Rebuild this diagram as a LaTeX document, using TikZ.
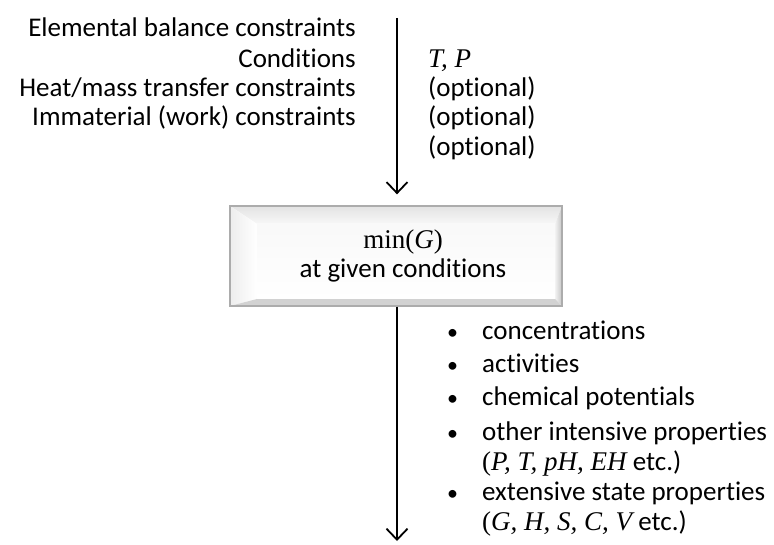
\documentclass[tikz,border=0pt]{standalone}
\usepackage{fontspec}
\setmainfont{Carlito}[Ligatures=NoCommon]
\newfontfamily\timesrm{Liberation Serif}
\usetikzlibrary{arrows.meta,calc}

\newcommand{\tvar}[1]{{\timesrm\itshape #1}}
\newcommand{\trm}[1]{{\timesrm #1}}
\newcommand{\bul}{\llap{{\fontsize{22}{26}\selectfont\textbullet}\hspace{24pt}}}

\tikzset{
  txt/.style={inner sep=0pt, font=\fontsize{27}{32}\selectfont},
  flow/.style={line width=1.8pt, -{Straight Barb[length=11pt,width=21pt,line width=1.8pt]}},
  mainbox/.style={minimum width=332pt, minimum height=100pt, inner sep=0pt,
    draw=gray!65, line width=1.3pt, align=center,
    path picture={
      % bevelled frame of the box
      \coordinate (o1) at (path picture bounding box.north west);
      \coordinate (o2) at (path picture bounding box.north east);
      \coordinate (o3) at (path picture bounding box.south east);
      \coordinate (o4) at (path picture bounding box.south west);
      \coordinate (i1) at ($(o1)+(27,18)$);
      \coordinate (i2) at ($(o2)+(-7,18)$);
      \coordinate (i3) at ($(o3)+(-7,-7)$);
      \coordinate (i4) at ($(o4)+(27,-7)$);
      \shade[top color=gray!22, bottom color=gray!6] (o1) -- (o2) -- (i2) -- (i1) -- cycle;
      \shade[left color=gray!14, right color=white] (o1) -- (i1) -- (i4) -- (o4) -- cycle;
      \shade[left color=gray!10, right color=gray!45] (o2) -- (o3) -- (i3) -- (i2) -- cycle;
      \fill[gray!35] (o4) -- (i4) -- (i3) -- (o3) -- cycle;
      \shade[top color=gray!5, bottom color=white] (i1) -- (i2) -- (i3) -- (i4) -- cycle;
    }}
}

\begin{document}
\begin{tikzpicture}[x=1pt, y=-1pt]
  \useasboundingbox (0,0) rectangle (774,545);

  % inputs on the left
  \node[txt, anchor=base east] (elem) at (356,37) {Elemental balance constraints};
  \node[txt, anchor=base east] (cond) at (356,68) {Conditions};
  \node[txt, anchor=base east] (heat) at (356,97) {Heat/mass transfer constraints};
  \node[txt, anchor=base east] (work) at (356,126) {Immaterial (work) constraints};

  % values on the right
  \node[txt, anchor=base west] (tp) at (428,68) {\tvar{T, P}};
  \node[txt, anchor=base west] (opt1) at (428,97) {(optional)};
  \node[txt, anchor=base west] (opt2) at (428,126) {(optional)};
  \node[txt, anchor=base west] (opt3) at (428,156) {(optional)};

  % minimisation box
  \node[mainbox] (box) at (396,256) {};
  \node[txt, anchor=base] (min) at (403,249) {\trm{min(}\tvar{G}\trm{)}};
  \node[txt, anchor=base] (given) at (403,278) {at given conditions};

  % arrows
  \coordinate (in) at (397,18);
  \coordinate (out) at (397,541);
  \draw[flow] (in) -- ($(box.north)+(1,-11)$);
  \draw[flow] (box.south -| in) -- (out);

  % results
  \node[txt, anchor=base west] (conc) at (482,340) {\bul concentrations};
  \node[txt, anchor=base west] (act) at (482,373) {\bul activities};
  \node[txt, anchor=base west] (chem) at (482,406) {\bul chemical potentials};
  \node[txt, anchor=base west] (intp) at (482,440) {\bul other intensive properties};
  \node[txt, anchor=base west] (intv) at (482,470) {\trm{(}\tvar{P, T, pH, EH} etc.)};
  \node[txt, anchor=base west] (extp) at (482,500) {\bul extensive state properties};
  \node[txt, anchor=base west] (extv) at (482,530) {\trm{(}\tvar{G, H, S, C, V} etc.)};
\end{tikzpicture}
\end{document}
